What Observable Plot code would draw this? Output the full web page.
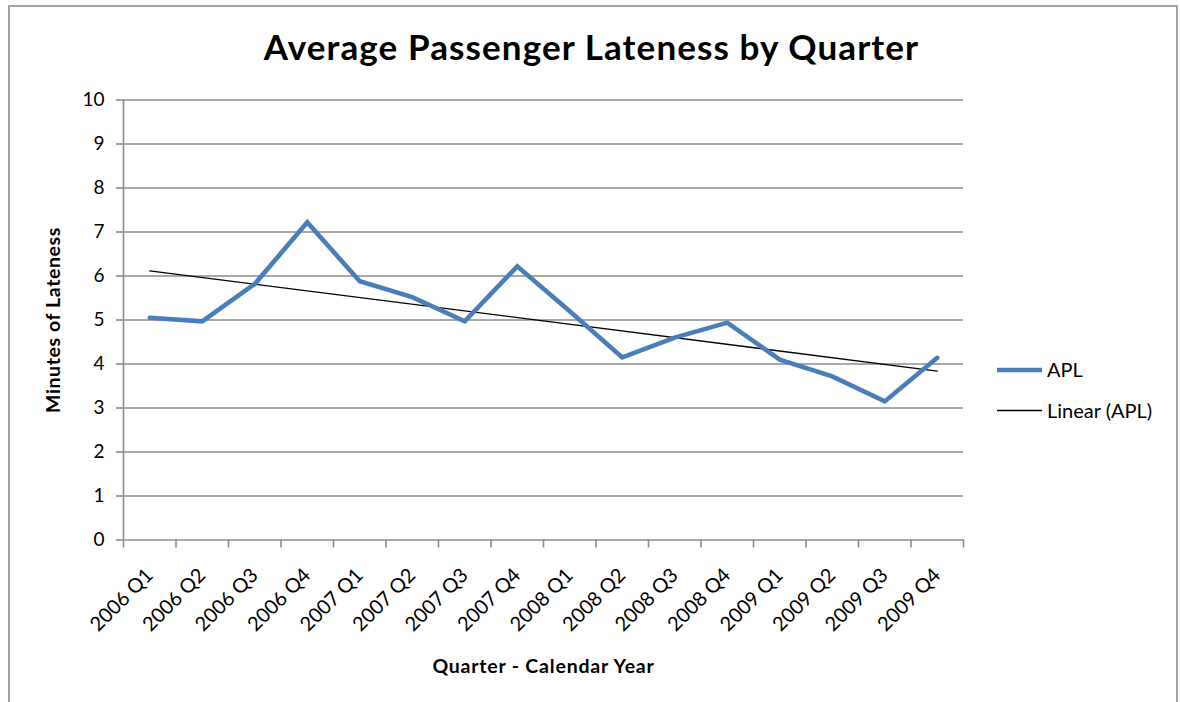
<!DOCTYPE html>
<html>
<head>
<meta charset="utf-8">
<script src="https://cdn.jsdelivr.net/npm/d3@7"></script>
<script src="https://cdn.jsdelivr.net/npm/@observablehq/plot@0.6"></script>
<style>
  body { margin: 0; background: #fff; }
  #wrap { position: relative; width: 1180px; height: 702px; overflow: hidden; background: #fff; }
  #border { position: absolute; left: 8px; top: 5px; width: 1170px; height: 720px; border: 2px solid #a3a3a3; box-sizing: border-box; }
  #chart { position: absolute; left: 0; top: 0; }
</style>
</head>
<body>
<div id="wrap">
  <div id="border"></div>
  <div id="chart"></div>
</div>
<script>
// Quarterly average passenger lateness (minutes)
const quarters = [
  "2006 Q1", "2006 Q2", "2006 Q3", "2006 Q4",
  "2007 Q1", "2007 Q2", "2007 Q3", "2007 Q4",
  "2008 Q1", "2008 Q2", "2008 Q3", "2008 Q4",
  "2009 Q1", "2009 Q2", "2009 Q3", "2009 Q4"
];
const apl = [5.05, 4.97, 5.82, 7.22, 5.88, 5.52, 4.97, 6.22, 5.20, 4.15, 4.60, 4.94, 4.10, 3.72, 3.15, 4.14];
const yTicks = [0, 1, 2, 3, 4, 5, 6, 7, 8, 9, 10];

const titleText = "Average Passenger Lateness by Quarter";
const xTitle = "Quarter - Calendar Year";
const yTitle = "Minutes of Lateness";
const seriesName = "APL";
const trendName = "Linear (APL)";

const data = quarters.map((q, i) => ({i, q, v: apl[i]}));
const centers = quarters.map((_, i) => i);
const boundaries = d3.range(-0.5, quarters.length, 1);

const font = "Lato, 'Open Sans', sans-serif";
const axisGray = "#8c8c8c";
const blue = "#4a7ebb";

const chart = Plot.plot({
  width: 1180,
  height: 702,
  marginLeft: 123,
  marginRight: 217,
  marginTop: 99.5,
  marginBottom: 162.5,
  style: {fontFamily: font, fontSize: "19px", color: "#000", background: "transparent", overflow: "visible"},
  x: {domain: [-0.5, quarters.length - 0.5], axis: null},
  y: {domain: [0, 10], axis: null},
  marks: [
    Plot.gridY(yTicks.slice(1), {stroke: axisGray, strokeOpacity: 1, strokeWidth: 1.6}),
    Plot.ruleX([-0.5], {stroke: axisGray, strokeWidth: 1.6}),
    Plot.ruleY([0], {stroke: axisGray, strokeWidth: 1.6}),
    Plot.axisY(yTicks, {tickSize: 7, tickPadding: 12, stroke: axisGray, strokeWidth: 1.6, fill: "#000", fontSize: 19, label: null}),
    Plot.axisX(boundaries, {tickSize: 8, tickFormat: () => "", stroke: axisGray, strokeWidth: 1.6, label: null}),
    Plot.axisX(centers, {tickSize: 0, tickPadding: 32, tickRotate: -45, tickFormat: i => quarters[i], fill: "#000", fontSize: 20, label: null}),
    Plot.linearRegressionY(data, {x: "i", y: "v", ci: 0, stroke: "#000", strokeWidth: 1.3}),
    Plot.lineY(data, {x: "i", y: "v", stroke: blue, strokeWidth: 4.6, strokeLinejoin: "miter", strokeMiterlimit: 4}),
    Plot.text([titleText], {frameAnchor: "top", lineAnchor: "middle", dx: 48, dy: -51.4, fontSize: 35, fontWeight: "bold", fill: "#000"}),
    Plot.text([yTitle], {frameAnchor: "left", textAnchor: "middle", lineAnchor: "middle", dx: -70, rotate: -90, fontSize: 19.5, fontWeight: "bold", fill: "#000"}),
    Plot.text([xTitle], {frameAnchor: "bottom", lineAnchor: "middle", dy: 127, fontSize: 19.5, fontWeight: "bold", fill: "#000"})
  ]
});

const svg = d3.select(chart);

// Letter spacing for the headings
const spacing = new Map([[titleText, 1.1], [xTitle, 0.8], [yTitle, 0.6]]);
svg.selectAll("text").each(function() {
  const s = spacing.get(this.textContent);
  if (s != null) d3.select(this).attr("letter-spacing", s);
});

// Legend to the right of the plot area
const legend = svg.append("g")
  .attr("font-family", font)
  .attr("font-size", 20)
  .attr("text-anchor", "start");
const entries = [
  {label: seriesName, stroke: blue, width: 4.6, y: 370},
  {label: trendName, stroke: "#000", width: 1.3, y: 410.5}
];
for (const e of entries) {
  legend.append("line")
    .attr("x1", 997).attr("x2", 1042).attr("y1", e.y).attr("y2", e.y)
    .attr("stroke", e.stroke).attr("stroke-width", e.width);
  legend.append("text")
    .attr("x", 1047).attr("y", e.y).attr("dy", "0.35em").attr("fill", "#000")
    .text(e.label);
}

document.getElementById("chart").appendChild(chart);
</script>
</body>
</html>
